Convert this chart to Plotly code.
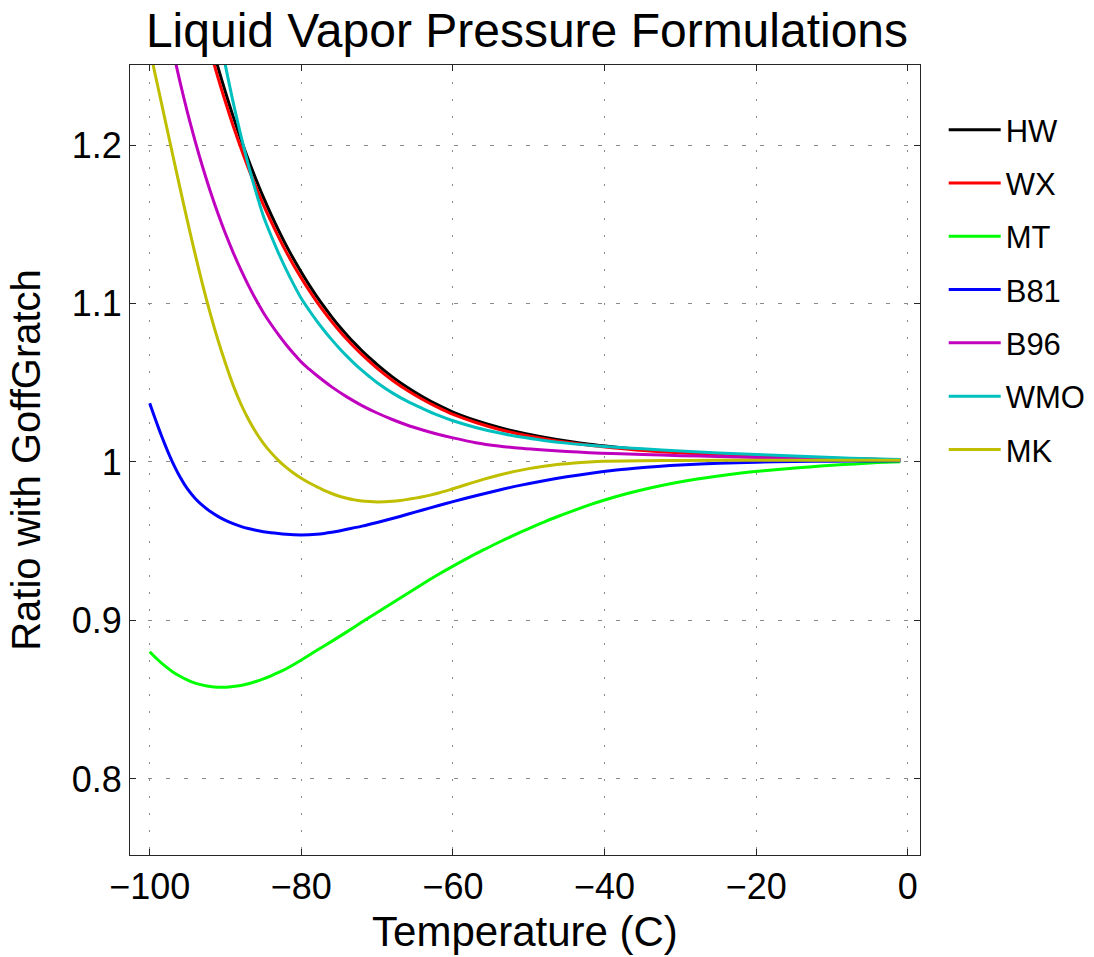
import plotly.graph_objects as go

# ---- data ----
hw_t = [-92, -91, -90, -89, -88, -87, -86, -85, -84, -83, -82, -81, -80, -79, -78, -77,
        -76, -75, -74, -73, -72, -71, -70, -68, -66, -64, -62, -60, -57, -54, -51, -48,
        -45, -42, -39, -35, -30, -25, -20, -15, -10, -5, -1]
hw_v = [1.2664, 1.2492, 1.2332, 1.2181, 1.2040, 1.1909, 1.1786, 1.1670, 1.1563, 1.1462,
        1.1367, 1.1279, 1.1197, 1.1119, 1.1047, 1.0980, 1.0916, 1.0857, 1.0802, 1.0750,
        1.0702, 1.0657, 1.0614, 1.0537, 1.0470, 1.0412, 1.0360, 1.0315, 1.0262, 1.0219,
        1.0184, 1.0156, 1.0132, 1.0112, 1.0096, 1.0078, 1.0062, 1.0050, 1.0040, 1.0031,
        1.0024, 1.0018, 1.0014]

wx_t = [-92, -91, -90, -89, -88, -87, -86, -85, -84, -83, -82, -81, -80, -79, -78, -77,
        -76, -75, -74, -73, -72, -71, -70, -68, -66, -64, -62, -60, -57, -54, -51, -48,
        -45, -42, -39, -35, -30, -25, -20, -15, -10, -5, -1]
wx_v = [1.2594, 1.2426, 1.2270, 1.2122, 1.1985, 1.1856, 1.1736, 1.1622, 1.1518, 1.1419,
        1.1326, 1.1240, 1.1160, 1.1084, 1.1014, 1.0948, 1.0886, 1.0828, 1.0774, 1.0724,
        1.0677, 1.0633, 1.0591, 1.0516, 1.0451, 1.0394, 1.0344, 1.0300, 1.0249, 1.0207,
        1.0174, 1.0147, 1.0124, 1.0105, 1.0090, 1.0073, 1.0058, 1.0047, 1.0037, 1.0029,
        1.0022, 1.0017, 1.0013]

mt_t = [-100, -99, -98, -97, -96, -95, -94, -93, -92, -91, -90, -89, -88, -87, -86, -85,
        -84, -83, -82, -81, -80, -78, -76, -74, -72, -70, -68, -66, -64, -62, -60, -58,
        -56, -54, -52, -50, -48, -46, -44, -42, -40, -37, -34, -31, -28, -25, -22, -19,
        -16, -13, -10, -7, -4, -1]
mt_v = [0.8803, 0.8755, 0.8713, 0.8677, 0.8648, 0.8624, 0.8605, 0.8592, 0.8583, 0.8579,
        0.8579, 0.8583, 0.8590, 0.8601, 0.8615, 0.8632, 0.8651, 0.8672, 0.8695, 0.8722,
        0.8751, 0.8810, 0.8868, 0.8928, 0.8990, 0.9050, 0.9110, 0.9170, 0.9230, 0.9288,
        0.9343, 0.9395, 0.9445, 0.9492, 0.9537, 0.9580, 0.9621, 0.9659, 0.9695, 0.9729,
        0.9760, 0.9801, 0.9836, 0.9866, 0.9891, 0.9912, 0.9930, 0.9945, 0.9958, 0.9969,
        0.9979, 0.9988, 0.9996, 1.0002]

b81_t = [-100, -99.5, -99, -98.5, -98, -97.5, -97, -96, -95, -94, -93, -92, -91, -90,
         -89, -88, -87, -86, -85, -84, -83, -82, -81, -80, -79, -78, -77, -76, -75, -74,
         -72, -70, -68, -66, -64, -62, -60, -57, -54, -51, -48, -45, -42, -39, -36, -33,
         -30, -25, -20, -15, -10, -5, -1]
b81_v = [1.0370, 1.0302, 1.0236, 1.0172, 1.0111, 1.0053, 0.9999, 0.9905, 0.9828, 0.9770,
         0.9724, 0.9687, 0.9657, 0.9632, 0.9611, 0.9594, 0.9580, 0.9569, 0.9560, 0.9553,
         0.9548, 0.9544, 0.9541, 0.9540, 0.9541, 0.9544, 0.9549, 0.9556, 0.9565, 0.9575,
         0.9595, 0.9618, 0.9643, 0.9670, 0.9697, 0.9724, 0.9750, 0.9787, 0.9822, 0.9854,
         0.9882, 0.9907, 0.9928, 0.9946, 0.9960, 0.9972, 0.9981, 0.9992, 0.9999, 1.0003,
         1.0005, 1.0006, 1.0007]

b96_t = [-97.2, -97, -96, -95, -94, -93, -92, -91, -90, -89, -88, -87, -86, -85, -84,
         -83, -82, -81, -80, -79, -78, -76, -74, -72, -70, -68, -66, -64, -62, -60, -57,
         -54, -51, -48, -45, -42, -39, -35, -30, -25, -20, -15, -10, -5, -1]
b96_v = [1.2655, 1.2610, 1.2397, 1.2202, 1.2023, 1.1858, 1.1707, 1.1568, 1.1440, 1.1323,
         1.1215, 1.1116, 1.1025, 1.0942, 1.0869, 1.0802, 1.0740, 1.0683, 1.0630, 1.0587,
         1.0547, 1.0474, 1.0411, 1.0356, 1.0309, 1.0268, 1.0232, 1.0202, 1.0175, 1.0152,
         1.0122, 1.0101, 1.0086, 1.0075, 1.0066, 1.0059, 1.0053, 1.0047, 1.0040, 1.0034,
         1.0028, 1.0023, 1.0019, 1.0015, 1.0012]

wmo_t = [-90.6, -90, -89, -88, -87, -86, -85, -84, -83, -82, -81, -80, -79, -78, -77,
         -76, -75, -74, -73, -72, -71, -70, -68, -66, -64, -62, -60, -57, -54, -51, -48,
         -45, -42, -39, -35, -30, -25, -20, -15, -10, -5, -1]
wmo_v = [1.2650, 1.2498, 1.2271, 1.2065, 1.1877, 1.1706, 1.1551, 1.1429, 1.1317, 1.1214,
         1.1119, 1.1031, 1.0959, 1.0892, 1.0830, 1.0772, 1.0718, 1.0668, 1.0621, 1.0578,
         1.0538, 1.0500, 1.0436, 1.0382, 1.0337, 1.0295, 1.0260, 1.0218, 1.0184, 1.0157,
         1.0136, 1.0119, 1.0106, 1.0095, 1.0083, 1.0069, 1.0057, 1.0047, 1.0037, 1.0028,
         1.0020, 1.0015]

mk_t = [-99.8, -99, -98, -97, -96, -95, -94, -93, -92, -91, -90, -89, -88, -87, -86,
        -85, -84, -83, -82, -81, -80, -79, -78, -77, -76, -75, -74, -73, -72, -71, -70,
        -69, -68, -67, -66, -65, -64, -63, -62, -61, -60, -58, -56, -54, -52, -50, -48,
        -46, -44, -42, -40, -35, -30, -20, -10, -1]
mk_v = [1.2560, 1.2385, 1.2165, 1.1945, 1.1728, 1.1515, 1.1310, 1.1115, 1.0935, 1.0770,
        1.0621, 1.0485, 1.0369, 1.0271, 1.0188, 1.0118, 1.0059, 1.0009, 0.9966, 0.9929,
        0.9897, 0.9869, 0.9845, 0.9821, 0.9801, 0.9784, 0.9771, 0.9761, 0.9754, 0.9750,
        0.9748, 0.9749, 0.9752, 0.9757, 0.9764, 0.9772, 0.9781, 0.9791, 0.9803, 0.9816,
        0.9831, 0.9861, 0.9890, 0.9916, 0.9939, 0.9958, 0.9973, 0.9985, 0.9994, 1.0000,
        1.0004, 1.0008, 1.0010, 1.0011, 1.0011, 1.0011]

names = ["HW", "WX", "MT", "B81", "B96", "WMO", "MK"]
colors = ["#000000", "#FF0000", "#00FF00", "#0000FF", "#BF00BF", "#00BFBF", "#BFBF00"]
series = [(hw_t, hw_v), (wx_t, wx_v), (mt_t, mt_v), (b81_t, b81_v),
          (b96_t, b96_v), (wmo_t, wmo_v), (mk_t, mk_v)]

x_ticks = [-100, -80, -60, -40, -20, 0]
x_labels = ["\u2212100", "\u221280", "\u221260", "\u221240", "\u221220", "0"]
y_ticks = [0.8, 0.9, 1.0, 1.1, 1.2]
y_labels = ["0.8", "0.9", "1", "1.1", "1.2"]

FONT = "Liberation Sans, Arial, sans-serif"

fig = go.Figure()
for name, color, (t, v) in zip(names, colors, series):
    fig.add_trace(go.Scatter(x=t, y=v, mode="lines", name=name, legendgroup=name,
                             line=dict(color=color, width=3, shape="spline", smoothing=0.8)))

axis_common = dict(
    showline=True, linecolor="#262626", linewidth=1.2, mirror="ticks",
    ticks="inside", ticklen=6, tickcolor="#262626", tickwidth=1,
    showgrid=True, gridcolor="#8a8a8a", gridwidth=1, zeroline=False,
)

fig.update_layout(
    width=1094, height=957,
    paper_bgcolor="white", plot_bgcolor="white",
    margin=dict(l=130, r=174, t=65, b=102, autoexpand=False),
    font=dict(family=FONT, color="black"),
    title=dict(text="Liquid Vapor Pressure Formulations", font=dict(size=48, family=FONT),
               x=527 / 1094, xanchor="center", xref="container",
               y=1 - 30 / 957, yanchor="middle", yref="container"),
    xaxis=dict(range=[-102.6, 1.6], tickvals=x_ticks, ticktext=x_labels,
               tickfont=dict(size=36), griddash="2px,15px",
               title=dict(text="Temperature (C)", font=dict(size=42), standoff=10),
               **axis_common),
    yaxis=dict(range=[0.752, 1.2505], tickvals=y_ticks, ticktext=y_labels,
               tickfont=dict(size=36), griddash="4px,14px",
               title=dict(text="Ratio with GoffGratch", font=dict(size=40), standoff=18),
               **axis_common),
    legend=dict(x=1.03, y=1 - 38 / 790, xanchor="left", yanchor="top",
                font=dict(size=31), itemwidth=52, tracegroupgap=10,
                bgcolor="rgba(0,0,0,0)", borderwidth=0),
    showlegend=True,
)

fig.write_html("out.html", config={"displayModeBar": False},
               post_script="document.body.style.margin='0px';")
